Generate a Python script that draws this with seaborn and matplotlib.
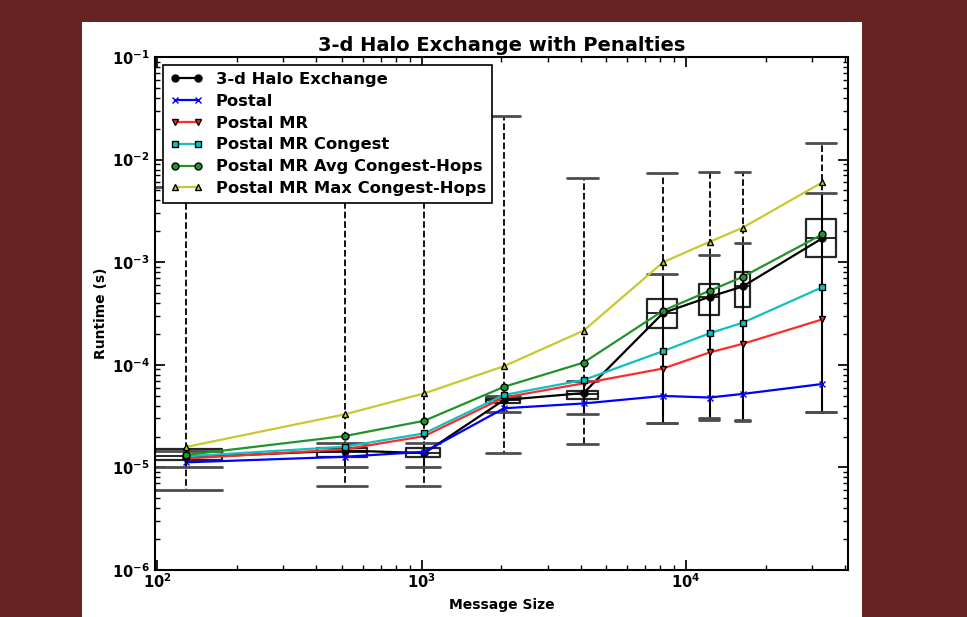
import numpy as np
import pandas as pd
import seaborn as sns
import matplotlib.pyplot as plt
from matplotlib.patches import Rectangle

# message sizes (bytes)
sizes = [128, 512, 1024, 2048, 4096, 8192, 12288, 16384, 32768]

# mean runtimes (s) per model
halo = [1.25e-5, 1.46e-5, 1.38e-5, 4.54e-5, 5.3e-5, 3.2e-4, 4.6e-4, 5.8e-4, 1.71e-3]
postal = [1.12e-5, 1.27e-5, 1.42e-5, 3.77e-5, 4.2e-5, 4.97e-5, 4.8e-5, 5.2e-5, 6.5e-5]
postal_mr = [1.22e-5, 1.5e-5, 2.02e-5, 4.8e-5, 6.6e-5, 9.2e-5, 1.32e-4, 1.6e-4, 2.77e-4]
mr_congest = [1.28e-5, 1.59e-5, 2.15e-5, 5.08e-5, 7.1e-5, 1.36e-4, 2.03e-4, 2.57e-4, 5.7e-4]
mr_avg_hops = [1.32e-5, 2.02e-5, 2.85e-5, 6.1e-5, 1.05e-4, 3.37e-4, 5.27e-4, 7.2e-4, 1.87e-3]
mr_max_hops = [1.58e-5, 3.29e-5, 5.27e-5, 9.7e-5, 2.15e-4, 1.0e-3, 1.58e-3, 2.17e-3, 6.0e-3]

# box statistics of the measured halo exchange runs
box_lo = [6.0e-6, 6.6e-6, 6.6e-6, 1.39e-5, 1.68e-5, 2.7e-5, 2.9e-5, 2.85e-5, 3.5e-5]
box_q1 = [1.18e-5, 1.25e-5, 1.26e-5, 4.25e-5, 4.65e-5, 2.29e-4, 3.05e-4, 3.68e-4, 1.13e-3]
box_med = [1.3e-5, 1.4e-5, 1.38e-5, 4.5e-5, 5.2e-5, 3.2e-4, 4.6e-4, 5.8e-4, 1.71e-3]
box_q3 = [1.5e-5, 1.55e-5, 1.55e-5, 4.7e-5, 5.6e-5, 4.4e-4, 6.2e-4, 8.1e-4, 2.62e-3]
box_hi = [5.4e-3, 6.0e-3, 8.0e-3, 2.66e-2, 6.6e-3, 7.4e-3, 7.6e-3, 7.6e-3, 1.46e-2]

# error range of the model predictions
err_lo = [1.0e-5, 1.0e-5, 1.0e-5, 3.47e-5, 3.3e-5, 2.71e-5, 3.0e-5, 2.9e-5, 3.5e-5]
err_hi = [1.45e-5, 1.73e-5, 1.73e-5, 5.0e-5, 7.0e-5, 7.7e-4, 1.17e-3, 1.53e-3, 4.75e-3]

labels = ['3-d Halo Exchange', 'Postal', 'Postal MR', 'Postal MR Congest',
          'Postal MR Avg Congest-Hops', 'Postal MR Max Congest-Hops']

box_w = [96, 220, 300, 600, 1100, 2100, 2100, 2150, 8500]

sns.set_theme(style='ticks', rc={'figure.facecolor': '#652323', 'axes.facecolor': 'white',
                                 'axes.edgecolor': 'black', 'axes.linewidth': 1.5,
                                 'text.color': 'black', 'axes.labelcolor': 'black',
                                 'xtick.direction': 'in', 'ytick.direction': 'in',
                                 'xtick.top': True, 'ytick.right': True,
                                 'xtick.major.size': 7, 'ytick.major.size': 7,
                                 'xtick.minor.size': 3.5, 'ytick.minor.size': 3.5,
                                 'xtick.color': 'black', 'ytick.color': 'black'})
plt.rcParams['font.family'] = ['DejaVu Sans']
plt.rcParams['font.weight'] = 'bold'
plt.rcParams['mathtext.default'] = 'bf'

fig = plt.figure(figsize=(9.67, 6.17), dpi=100)
fig.add_artist(Rectangle((82 / 967, 0), 780 / 967, 595 / 617, transform=fig.transFigure,
                         facecolor='white', edgecolor='none', zorder=-10))
ax = fig.add_axes([155 / 967, 47 / 617, 693 / 967, 513 / 617])
ax.set_xscale('log')
ax.set_yscale('log')

stats = [dict(med=m, q1=a, q3=b, whislo=lo, whishi=hi, fliers=[])
         for m, a, b, lo, hi in zip(box_med, box_q1, box_q3, box_lo, box_hi)]
ax.bxp(stats, positions=sizes, widths=box_w, capwidths=box_w, showfliers=False,
       manage_ticks=False,
       boxprops=dict(color='0.15', lw=1.6),
       whiskerprops=dict(color='black', ls='--', lw=1.3),
       capprops=dict(color='0.3', lw=2),
       medianprops=dict(color='black', lw=1.2))

err_stats = [dict(med=np.sqrt(lo * hi), q1=np.sqrt(lo * hi), q3=np.sqrt(lo * hi),
                  whislo=lo, whishi=hi, fliers=[])
             for lo, hi in zip(err_lo, err_hi)]
ax.bxp(err_stats, positions=sizes, widths=box_w, capwidths=box_w, showfliers=False,
       showbox=False, manage_ticks=False,
       whiskerprops=dict(color='black', ls='-', lw=1.5),
       capprops=dict(color='0.3', lw=2),
       medianprops=dict(lw=0))

series = [halo, postal, postal_mr, mr_congest, mr_avg_hops, mr_max_hops]
colors = ['black', '#0000ff', '#ff2a2a', '#10c0c0', '#22922a', '#c8c830']
markers = ['o', 'x', 'v', 's', 'o', '^']
edges = ['black', '#0000ff', 'black', 'black', 'black', 'black']
handles = []
for vals, lab, c, mk, ec in zip(series, labels, colors, markers, edges):
    sns.lineplot(x=sizes, y=vals, ax=ax, color=c, marker=mk, markersize=5,
                 markeredgecolor=ec, markeredgewidth=1, lw=1.6, zorder=3)
    handles.append(ax.lines[-1])

ax.set_xlim(98, 41000)
ax.set_ylim(1e-6, 1e-1)
ax.tick_params(axis='both', which='major', labelsize=10.5)
ax.tick_params(axis='x', which='major', pad=2)
ax.tick_params(axis='y', which='major', pad=4)
ax.set_title('3-d Halo Exchange with Penalties', fontsize=14, fontweight='bold', pad=4)
ax.set_xlabel('Message Size', fontsize=10, fontweight='bold', labelpad=5)
ax.set_ylabel('Runtime (s)', fontsize=10, fontweight='bold', labelpad=3)

leg = ax.legend(handles, labels, loc='upper left', numpoints=2, fancybox=False,
                framealpha=1, edgecolor='black', handlelength=2.0, labelspacing=0.42,
                prop={'weight': 'bold', 'size': 11.8}, borderaxespad=0.5)
leg.get_frame().set_linewidth(1.2)

plt.savefig('out.png', dpi=100, facecolor=fig.get_facecolor())
